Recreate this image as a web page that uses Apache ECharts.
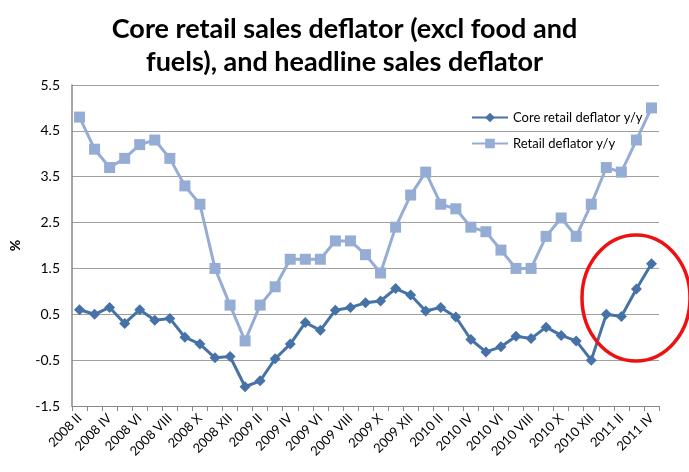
<!DOCTYPE html>
<html>
<head>
<meta charset="utf-8">
<script src="https://cdn.jsdelivr.net/npm/echarts@6/dist/echarts.min.js"></script>
<style>
  html, body { margin: 0; padding: 0; background: #fff; }
  #chart { width: 689px; height: 472px; }
</style>
</head>
<body>
<div id="chart"></div>
<script>
// months, 2008 II .. 2011 IV
var months = [
  '2008 II', '2008 III', '2008 IV', '2008 V', '2008 VI', '2008 VII', '2008 VIII', '2008 IX', '2008 X', '2008 XI', '2008 XII',
  '2009 I', '2009 II', '2009 III', '2009 IV', '2009 V', '2009 VI', '2009 VII', '2009 VIII', '2009 IX', '2009 X', '2009 XI', '2009 XII',
  '2010 I', '2010 II', '2010 III', '2010 IV', '2010 V', '2010 VI', '2010 VII', '2010 VIII', '2010 IX', '2010 X', '2010 XI', '2010 XII',
  '2011 I', '2011 II', '2011 III', '2011 IV'
];

var coreDeflator = [
  0.6, 0.5, 0.65, 0.3, 0.6, 0.37, 0.41, 0.0, -0.15, -0.45, -0.42,
  -1.08, -0.95, -0.47, -0.15, 0.32, 0.15, 0.59, 0.65, 0.75, 0.79, 1.06, 0.92,
  0.57, 0.65, 0.44, -0.05, -0.32, -0.21, 0.02, -0.03, 0.22, 0.04, -0.08, -0.5,
  0.5, 0.45, 1.05, 1.6
];

var retailDeflator = [
  4.8, 4.1, 3.7, 3.9, 4.2, 4.3, 3.9, 3.3, 2.9, 1.5, 0.7,
  -0.08, 0.7, 1.1, 1.7, 1.7, 1.7, 2.1, 2.1, 1.8, 1.4, 2.4, 3.1,
  3.6, 2.9, 2.8, 2.4, 2.3, 1.9, 1.5, 1.5, 2.2, 2.6, 2.2, 2.9,
  3.7, 3.6, 4.3, 5.0
];

var myChart = echarts.init(document.getElementById('chart'));
var font = 'Lato, "Open Sans", sans-serif';

myChart.setOption({
  animation: false,
  title: {
    text: 'Core retail sales deflator (excl food and\nfuels), and headline sales deflator',
    left: 'center',
    top: 8,
    textStyle: { fontFamily: font, fontSize: 27, fontWeight: 'bold', color: '#000', lineHeight: 33 }
  },
  legend: {
    orient: 'vertical',
    left: 466,
    top: 106,
    itemWidth: 36,
    itemHeight: 12,
    itemGap: 13,
    textStyle: { fontFamily: font, fontSize: 13, color: '#000' },
    data: ['Core retail deflator y/y', 'Retail deflator y/y']
  },
  grid: { left: 70, right: 30, top: 85, bottom: 66 },
  xAxis: [
    {
      type: 'category',
      data: months,
      position: 'bottom',
      axisLine: { show: false },
      axisTick: { show: false },
      axisLabel: {
        interval: 1,
        rotate: 45,
        margin: 10,
        fontFamily: font,
        fontSize: 13,
        color: '#000'
      }
    },
    {
      type: 'category',
      data: months,
      position: 'bottom',
      axisLine: { show: true, onZero: true, lineStyle: { color: '#888', width: 1 } },
      axisTick: { show: true, interval: 0, length: 5, lineStyle: { color: '#888' } },
      axisLabel: { show: false }
    }
  ],
  yAxis: {
    type: 'value',
    min: -1.5,
    max: 5.5,
    interval: 1,
    name: '%',
    nameLocation: 'middle',
    nameGap: 50,
    nameTextStyle: { fontFamily: font, fontSize: 14, fontWeight: 'bold', color: '#000' },
    axisLine: { show: true, lineStyle: { color: '#888', width: 1.5 } },
    axisTick: { show: false },
    axisLabel: {
      fontFamily: font,
      fontSize: 14,
      color: '#000',
      margin: 12,
      formatter: function (v) { return v.toFixed(1); }
    },
    splitLine: { lineStyle: { color: '#a0a0a0', width: 1.2 } }
  },
  series: [
    {
      name: 'Core retail deflator y/y',
      type: 'line',
      data: coreDeflator,
      symbol: 'diamond',
      symbolSize: 11,
      showAllSymbol: true,
      z: 3,
      lineStyle: { color: '#4672a8', width: 3 },
      itemStyle: { color: '#4672a8' }
    },
    {
      name: 'Retail deflator y/y',
      type: 'line',
      data: retailDeflator,
      symbol: 'rect',
      symbolSize: 11,
      showAllSymbol: true,
      z: 2,
      lineStyle: { color: '#95acd4', width: 3 },
      itemStyle: { color: '#95acd4' }
    }
  ],
  graphic: [
    {
      type: 'ellipse',
      shape: { cx: 636, cy: 298, rx: 54, ry: 63 },
      style: { fill: 'none', stroke: '#ee1111', lineWidth: 3.5 },
      z: 10
    }
  ]
});
</script>
</body>
</html>
